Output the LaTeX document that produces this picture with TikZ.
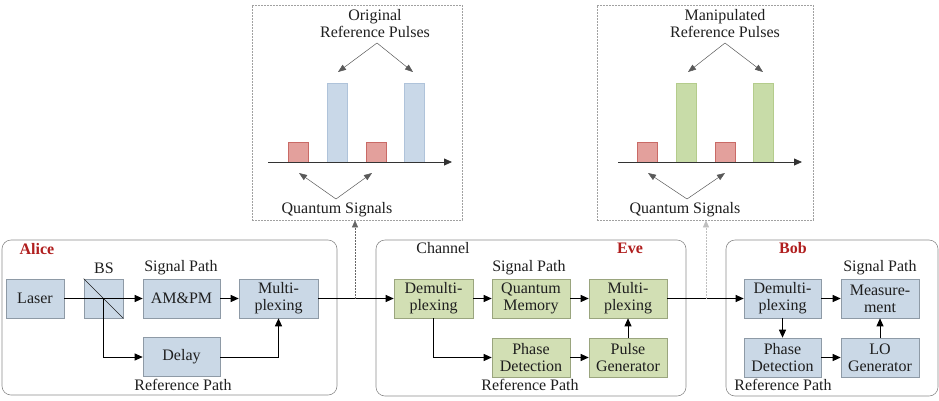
\documentclass[tikz,border=0pt]{standalone}
\usepackage{fontspec}
\setmainfont{Liberation Serif}
\usetikzlibrary{arrows.meta}
\definecolor{bfill}{HTML}{CAD8E6}
\definecolor{bdraw}{HTML}{8E9AA6}
\definecolor{gfill}{HTML}{D2DFB4}
\definecolor{gdraw}{HTML}{9AA57E}
\definecolor{rbar}{HTML}{E3A09C}
\definecolor{rbardraw}{HTML}{C96A66}
\definecolor{bbar}{HTML}{C9D8E8}
\definecolor{bbardraw}{HTML}{AFC3DA}
\definecolor{gbar}{HTML}{C8DCA8}
\definecolor{gbardraw}{HTML}{B4CC8C}
\definecolor{txt}{HTML}{1E1E1E}
\definecolor{namered}{HTML}{B01E1E}
\definecolor{framec}{HTML}{8A8A8A}
\begin{document}
\begin{tikzpicture}[x=1pt,y=-1pt,
  font=\fontsize{16}{17}\selectfont, text=txt,
  blk/.style={draw=bdraw, fill=bfill, minimum height=39pt, inner sep=0pt, align=center, line width=0.6pt},
  grn/.style={blk, draw=gdraw, fill=gfill},
  cont/.style={draw=framec, rounded corners=9pt, line width=0.6pt, inner sep=0pt},
  panel/.style={draw=framec!80, dash pattern=on 2pt off 1pt, line width=0.6pt, inner sep=0pt, minimum height=215pt},
  arr/.style={-{Triangle[length=8pt,width=7pt]}, line width=0.9pt, black},
  thinarr/.style={-{Triangle[length=8pt,width=6pt]}, line width=0.5pt, draw=black!65},
  who/.style={font=\fontsize{16}{17}\selectfont\bfseries, text=namered},
  lbl/.style={align=center, inner sep=0pt},
  rbarst/.style={fill=rbar, draw=rbardraw, line width=0.5pt},
  bbarst/.style={fill=bbar, draw=bbardraw, line width=0.5pt},
  gbarst/.style={fill=gbar, draw=gbardraw, line width=0.5pt}]
\useasboundingbox (0,0) rectangle (939,400);

% containers
\node[cont, minimum width=335pt, minimum height=155pt] (alice) at (169.5,317.5) {};
\node[cont, minimum width=310pt, minimum height=156pt] (chan) at (531,318) {};
\node[cont, minimum width=212pt, minimum height=156pt] (bob) at (832,318) {};

\node[who] (alicel) at (37,249) {Alice};
\node[lbl] (chanl) at (443,248) {Channel};
\node[who] (evel) at (630,248) {Eve};
\node[who] (bobl) at (793,248) {Bob};

% Alice
\node[blk, minimum width=58pt] (laser) at (35,298.5) {Laser};
\node[blk, minimum width=39pt] (bs) at (103.5,298.5) {};
\node[lbl] (bsl) at (104,268) {BS};
\node[blk, minimum width=77pt] (ampm) at (181.5,298.5) {AM\&PM};
\node[blk, minimum width=79pt] (muxa) at (278.5,298.5) {Multi-\\plexing};
\node[blk, minimum width=77pt] (delay) at (181.5,357) {Delay};
\node[lbl] (spa) at (181,268) {Signal Path};
\node[lbl] (rpa) at (183,385) {Reference Path};

% Eve
\node[grn, minimum width=79pt] (demuxe) at (433.5,298.5) {Demulti-\\plexing};
\node[grn, minimum width=78pt] (qm) at (531,298.5) {Quantum\\Memory};
\node[grn, minimum width=78pt] (muxe) at (628,298.5) {Multi-\\plexing};
\node[grn, minimum width=78pt] (pde) at (531,357.5) {Phase\\Detection};
\node[grn, minimum width=78pt] (pg) at (628,357.5) {Pulse\\Generator};
\node[lbl] (spe) at (529,268) {Signal Path};
\node[lbl] (rpe) at (530,385) {Reference Path};

% Bob
\node[blk, minimum width=77pt] (demuxb) at (782.5,298.5) {Demulti-\\plexing};
\node[blk, minimum width=78pt] (meas) at (880,298.5) {Measure-\\ment};
\node[blk, minimum width=77pt] (pdb) at (782.5,357.5) {Phase\\Detection};
\node[blk, minimum width=78pt] (lo) at (880,357.5) {LO\\Generator};
\node[lbl] (spb) at (880,268) {Signal Path};
\node[lbl] (rpb) at (783,385) {Reference Path};

% Alice connectors
\draw[line width=0.6pt, draw=txt] (bs.north west) -- (bs.south east);
\draw[arr] (laser.east) -- (ampm.west);
\draw[arr] (bs.center) |- (delay.west);
\draw[arr] (ampm.east) -- (muxa.west);
\draw[arr] (delay.east) -| (muxa.south);
\draw[arr] (muxa.east) -- (demuxe.west);
% Eve connectors
\draw[arr] (demuxe.east) -- (qm.west);
\draw[arr] (qm.east) -- (muxe.west);
\draw[arr] (demuxe.south) |- (pde.west);
\draw[arr] (pde.east) -- (pg.west);
\draw[arr] (pg.north) -- (muxe.south);
\draw[arr] (muxe.east) -- (demuxb.west);
% Bob connectors
\draw[arr] (demuxb.east) -- (meas.west);
\draw[arr] (demuxb.south) -- (pdb.north);
\draw[arr] (pdb.east) -- (lo.west);
\draw[arr] (lo.north) -- (meas.south);

% panels
\node[panel, minimum width=210pt] (p1) at (357,112.5) {};
\node[panel, minimum width=216pt] (p2) at (705,112.5) {};
\coordinate (t1) at (355,298.5);
\coordinate (t2) at (706,298.5);
\draw[-{Triangle[length=7pt,width=6pt]}, draw=black!60, dash pattern=on 2pt off 1pt, line width=0.6pt] (t1) -- (t1 |- p1.south);
\draw[-{Triangle[length=7pt,width=6pt]}, draw=black!25, dash pattern=on 2pt off 1pt, line width=0.6pt] (t2) -- (t2 |- p2.south);

% panel 1 content
\node[lbl] (orig) at (375,24) {Original\\Reference Pulses};
\draw[rbarst] (288,142) rectangle (308,162);
\draw[bbarst] (327,83) rectangle (347,162);
\draw[rbarst] (366,142) rectangle (386,162);
\draw[bbarst] (404,83) rectangle (424,162);
\coordinate (ax1a) at (268,162);
\coordinate (ax1b) at (452,162);
\draw[arr, line width=0.8pt, draw=black!80] (ax1a) -- (ax1b);
\coordinate (o1) at (377,43);
\coordinate (o1a) at (338,72);
\coordinate (o1b) at (413,72);
\draw[thinarr] (o1) -- (o1a);
\draw[thinarr] (o1) -- (o1b);
\coordinate (q1) at (336,199);
\coordinate (q1a) at (299,173);
\coordinate (q1b) at (372,173);
\draw[thinarr] (q1) -- (q1a);
\draw[thinarr] (q1) -- (q1b);
\node[lbl] (qs1) at (337,210) {Quantum Signals};

% panel 2 content
\node[lbl] (manip) at (725,24) {Manipulated\\Reference Pulses};
\draw[rbarst] (637,142) rectangle (657,162);
\draw[gbarst] (676,83) rectangle (696,162);
\draw[rbarst] (715,142) rectangle (735,162);
\draw[gbarst] (753,83) rectangle (773,162);
\coordinate (ax2a) at (618,162);
\coordinate (ax2b) at (802,162);
\draw[arr, line width=0.8pt, draw=black!80] (ax2a) -- (ax2b);
\coordinate (o2) at (725,43);
\coordinate (o2a) at (688,72);
\coordinate (o2b) at (763,72);
\draw[thinarr] (o2) -- (o2a);
\draw[thinarr] (o2) -- (o2b);
\coordinate (q2) at (687,199);
\coordinate (q2a) at (648,173);
\coordinate (q2b) at (725,173);
\draw[thinarr] (q2) -- (q2a);
\draw[thinarr] (q2) -- (q2b);
\node[lbl] (qs2) at (685,210) {Quantum Signals};
\end{tikzpicture}
\end{document}
